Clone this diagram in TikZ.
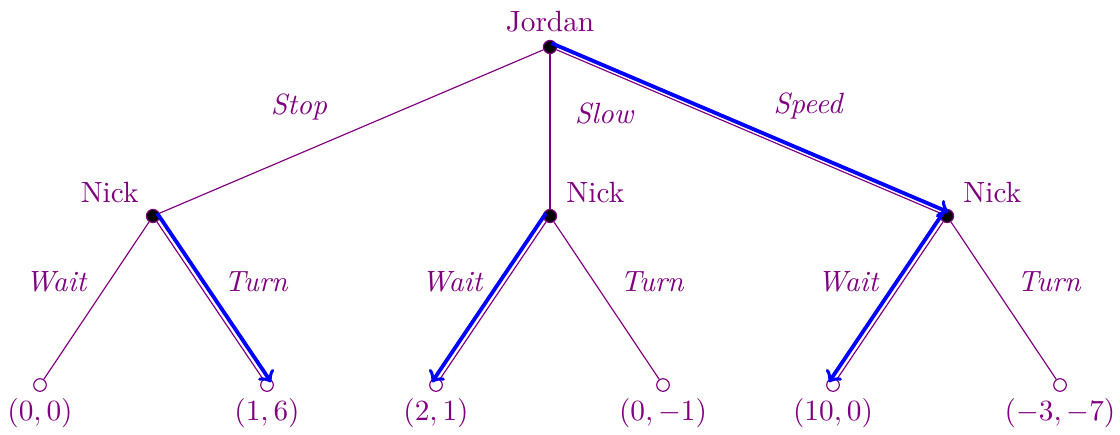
\documentclass[tikz,border=0pt]{standalone}
\usetikzlibrary{calc}

\begin{document}
\begin{tikzpicture}[x=0.012cm, y=-0.012cm,
      dec/.style={circle, draw=violet, fill=black, inner sep=0pt, minimum size=4.5pt},
      term/.style={circle, draw=violet, fill=white, inner sep=0pt, minimum size=4.3pt},
      edge/.style={draw=violet, line width=0.4pt},
      who/.style={text=violet, inner sep=2pt},
      act/.style={text=violet, font=\itshape},
      pay/.style={text=violet},
      best/.style={->, draw=blue, line width=1.3pt}
    ]
    \useasboundingbox (0,0) rectangle (1120,435);
    % decision nodes
    \node[dec] (j)  at (550,47)  {};
    \node[dec] (n1) at (153,216) {};
    \node[dec] (n2) at (550,216) {};
    \node[dec] (n3) at (947,216) {};
    % terminal nodes
    \foreach \x [count=\i] in {40,267,436,663,833,1060} {
      \node[term] (t\i) at (\x,385) {}; }
    % players
    \node[who, above=0.5pt] at (j.north) {Jordan};
    \node[who, anchor=south east] at ($(n1)+(-8,-7)$) {Nick};
    \node[who, anchor=south west] at ($(n2)+(10,-7)$) {Nick};
    \node[who, anchor=south west] at ($(n3)+(10,-7)$) {Nick};
    % edges
    \draw[edge] (j) -- (n1);
    \draw[edge] (j) -- (n2);
    \draw[edge] (j) -- (n3);
    \draw[edge] (n1) -- (t1);
    \draw[edge] (n1) -- (t2);
    \draw[edge] (n2) -- (t3);
    \draw[edge] (n2) -- (t4);
    \draw[edge] (n3) -- (t5);
    \draw[edge] (n3) -- (t6);
    % actions
    \node[act] at (299,107) {Stop};
    \node[act] at (604,113) {Slow};
    \node[act] at (808,106) {Speed};
    \node[act] at (56,282)   {Wait};
    \node[act] at (256,282)  {Turn};
    \node[act] at (452,282)  {Wait};
    \node[act] at (652,282)  {Turn};
    \node[act] at (848,282)  {Wait};
    \node[act] at (1049,282) {Turn};
    % payoffs
    \node[pay] at (40,413)   {$(0,0)$};
    \node[pay] at (267,413)  {$(1,6)$};
    \node[pay] at (436,413)  {$(2,1)$};
    \node[pay] at (663,413)  {$(0,-1)$};
    \node[pay] at (833,413)  {$(10,0)$};
    \node[pay] at (1060,413) {$(-3,-7)$};
    % best responses
    \draw[best] ($(j)!1.4pt!90:(n3)$) -- ($(n3)!1.4pt!-90:(j)$);
    \draw[best] ($(n1)!1.7pt!90:(t2)$) -- ($(t2)!1.7pt!-90:(n1)$);
    \draw[best] ($(n2)!1.7pt!-90:(t3)$) -- ($(t3)!1.7pt!90:(n2)$);
    \draw[best] ($(n3)!1.7pt!-90:(t5)$) -- ($(t5)!1.7pt!90:(n3)$);
  \end{tikzpicture}
\end{document}
